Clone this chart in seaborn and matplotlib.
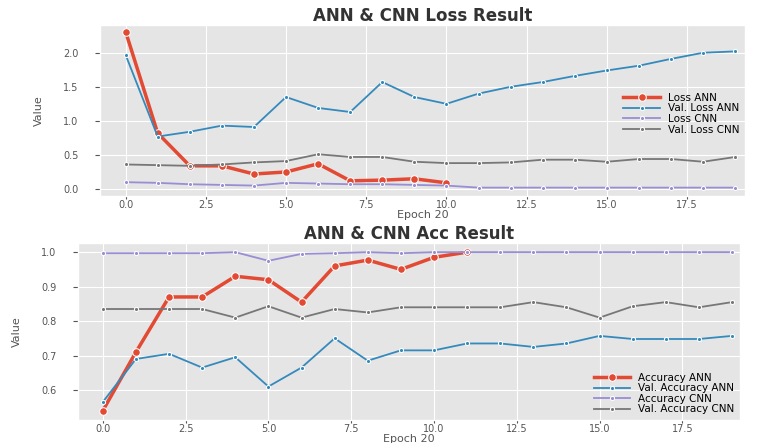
import matplotlib
matplotlib.use('Agg')
import matplotlib.pyplot as plt
import seaborn as sns

# epochs
epochs = list(range(20))
epochs_ann_loss = list(range(11))
epochs_ann_acc = list(range(12))

# loss values
loss_ann = [2.31, 0.82, 0.34, 0.34, 0.22, 0.25, 0.37, 0.12, 0.13, 0.15, 0.09]
val_loss_ann = [1.97, 0.77, 0.84, 0.93, 0.91, 1.35, 1.19, 1.13, 1.57, 1.35,
                1.25, 1.40, 1.50, 1.57, 1.66, 1.74, 1.81, 1.91, 2.00, 2.02]
loss_cnn = [0.10, 0.09, 0.07, 0.06, 0.05, 0.09, 0.08, 0.07, 0.07, 0.06,
            0.05, 0.02, 0.02, 0.02, 0.02, 0.02, 0.02, 0.02, 0.02, 0.02]
val_loss_cnn = [0.36, 0.35, 0.34, 0.36, 0.39, 0.41, 0.51, 0.47, 0.47, 0.40,
                0.38, 0.38, 0.39, 0.43, 0.43, 0.40, 0.44, 0.44, 0.40, 0.47]

# accuracy values
acc_ann = [0.54, 0.71, 0.87, 0.87, 0.93, 0.92, 0.855, 0.96, 0.977, 0.95, 0.985, 1.0]
val_acc_ann = [0.565, 0.69, 0.705, 0.665, 0.695, 0.61, 0.665, 0.75, 0.685, 0.715,
               0.715, 0.735, 0.735, 0.725, 0.735, 0.757, 0.748, 0.748, 0.748, 0.757]
acc_cnn = [0.997, 0.997, 0.997, 0.997, 1.0, 0.975, 0.995, 0.997, 1.0, 0.997,
           1.0, 1.0, 1.0, 1.0, 1.0, 1.0, 1.0, 1.0, 1.0, 1.0]
val_acc_cnn = [0.835, 0.835, 0.835, 0.835, 0.81, 0.843, 0.81, 0.835, 0.825, 0.84,
               0.84, 0.84, 0.84, 0.855, 0.84, 0.81, 0.843, 0.855, 0.84, 0.855]

plt.style.use('ggplot')
red, blue, purple, grey = '#E24A33', '#348ABD', '#988ED5', '#777777'

fig = plt.figure(figsize=(7.57, 4.43), dpi=100)
ax1 = fig.add_axes([0.132, 0.558, 0.852, 0.386])
ax2 = fig.add_axes([0.103, 0.052, 0.875, 0.399])

#loss
sns.lineplot(x=epochs_ann_loss, y=loss_ann, ax=ax1, color=red, lw=2.5, marker='o', ms=5.5, label='Loss ANN')
sns.lineplot(x=epochs, y=val_loss_ann, ax=ax1, color=blue, lw=1.3, marker='o', ms=3, label='Val. Loss ANN')
sns.lineplot(x=epochs, y=loss_cnn, ax=ax1, color=purple, lw=1.3, marker='o', ms=3, label='Loss CNN')
sns.lineplot(x=epochs, y=val_loss_cnn, ax=ax1, color=grey, lw=1.3, marker='o', ms=3, label='Val. Loss CNN')
ax1.set_xlim(-0.8, 19.3)
ax1.set_ylim(-0.1, 2.41)
ax1.set_yticks([0.0, 0.5, 1.0, 1.5, 2.0])
ax1.set_xticks([0.0, 2.5, 5.0, 7.5, 10.0, 12.5, 15.0, 17.5])
ax1.set_title('ANN & CNN Loss Result', fontsize=12, fontweight='bold', color='#333333', pad=2)
ax1.set_xlabel('Epoch 20', fontsize=8, labelpad=0)
ax1.set_ylabel('Value', fontsize=8, labelpad=14)
ax1.legend(loc='center right', frameon=False, fontsize=7.5, bbox_to_anchor=(1.0, 0.48),
           labelspacing=0.05, handlelength=3.5, borderaxespad=0.1)

#accuracy
sns.lineplot(x=epochs_ann_acc, y=acc_ann, ax=ax2, color=red, lw=2.5, marker='o', ms=5.5, label='Accuracy ANN')
sns.lineplot(x=epochs, y=val_acc_ann, ax=ax2, color=blue, lw=1.3, marker='o', ms=3, label='Val. Accuracy ANN')
sns.lineplot(x=epochs, y=acc_cnn, ax=ax2, color=purple, lw=1.3, marker='o', ms=3, label='Accuracy CNN')
sns.lineplot(x=epochs, y=val_acc_cnn, ax=ax2, color=grey, lw=1.3, marker='o', ms=3, label='Val. Accuracy CNN')
ax2.set_xlim(-0.75, 19.25)
ax2.set_ylim(0.513, 1.026)
ax2.set_yticks([0.6, 0.7, 0.8, 0.9, 1.0])
ax2.set_xticks([0.0, 2.5, 5.0, 7.5, 10.0, 12.5, 15.0, 17.5])
ax2.set_title('ANN & CNN Acc Result', fontsize=12, fontweight='bold', color='#333333', pad=2)
ax2.set_xlabel('Epoch 20', fontsize=8, labelpad=0)
ax2.set_ylabel('Value', fontsize=8, labelpad=14)
ax2.legend(loc='lower right', frameon=False, fontsize=7.5, borderaxespad=0.15,
           labelspacing=0.05, handlelength=3.5)

for ax in (ax1, ax2):
    ax.tick_params(axis='x', labelsize=7, pad=1, length=2)
    ax.tick_params(axis='y', labelsize=7, pad=12)

fig.savefig('out.png', dpi=100)
